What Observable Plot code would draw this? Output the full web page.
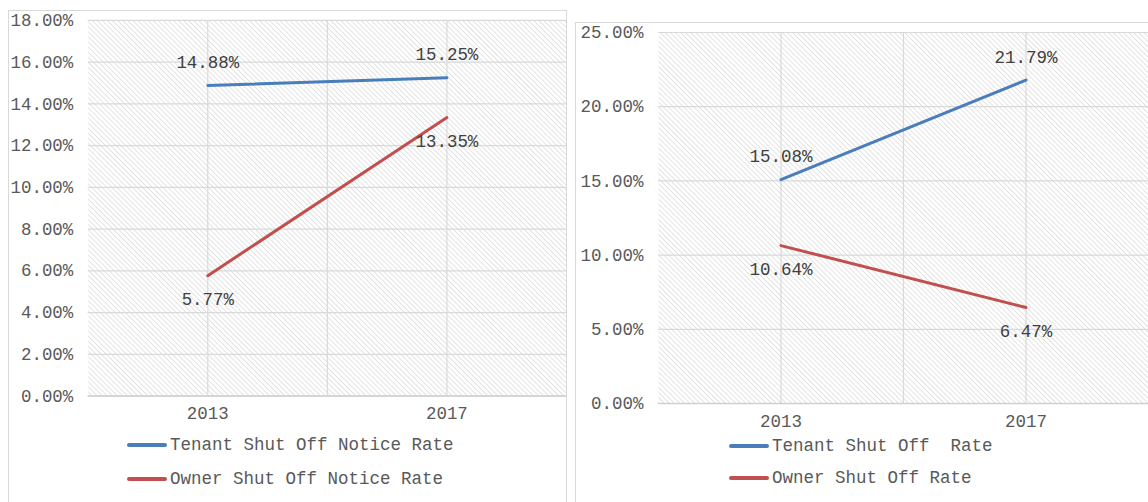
<!DOCTYPE html>
<html>
<head>
<meta charset="utf-8">
<script src="https://cdn.jsdelivr.net/npm/d3@7"></script>
<script src="https://cdn.jsdelivr.net/npm/@observablehq/plot@0.6"></script>
<style>
  html, body { margin: 0; padding: 0; background: #fff; }
  #root { position: relative; width: 1148px; height: 502px; overflow: hidden; background: #fff;
          font-family: "Liberation Mono", "DejaVu Sans Mono", monospace; color: #595959; }
  .panel { position: absolute; box-sizing: border-box; border: 1.5px solid #d9d9d9; background: #fff; }
  .clip { position: absolute; overflow: hidden; }
  .legend { position: absolute; font-size: 17.5px; color: #595959; white-space: pre; }
  .legend .item { position: absolute; display: flex; align-items: center; }
  .legend .swatch { display: inline-block; width: 40px; height: 4px; border-radius: 2px; margin-right: 3px; }
</style>
</head>
<body>
<svg width="0" height="0" style="position:absolute">
  <defs>
    <pattern id="hatch" patternUnits="userSpaceOnUse" width="3.6" height="3.6" patternTransform="rotate(-45)">
      <rect width="3.6" height="3.6" fill="#ffffff"></rect>
      <line x1="0" y1="0" x2="0" y2="3.6" stroke="#cccccc" stroke-width="1.1"></line>
    </pattern>
  </defs>
</svg>
<div id="root"></div>
<script>
// ---- data ----
const years = [2013, 2017];
const gridYears = [2013, 2015, 2017];

const leftSeries = ["Tenant Shut Off Notice Rate", "Owner Shut Off Notice Rate"];
const leftTenant = [0.1488, 0.1525];
const leftOwner = [0.0577, 0.1335];
const leftTicks = [0, 0.02, 0.04, 0.06, 0.08, 0.10, 0.12, 0.14, 0.16, 0.18];

const rightSeries = ["Tenant Shut Off  Rate", "Owner Shut Off Rate"];
const rightTenant = [0.1508, 0.2179];
const rightOwner = [0.1064, 0.0647];
const rightTicks = [0, 0.05, 0.10, 0.15, 0.20, 0.25];

const colors = ["#4a7ebb", "#c0504d"];

const FONT = '"Liberation Mono", "DejaVu Sans Mono", monospace';
const fmt = d3.format(".2%");

function makeChart({series, tenant, owner, ticks, yMax, width, height, marginLeft, marginTop, marginBottom}) {
  const tRows = years.map((y, i) => ({year: y, value: tenant[i], series: series[0]}));
  const oRows = years.map((y, i) => ({year: y, value: owner[i], series: series[1]}));
  return Plot.plot({
    width, height, marginLeft, marginTop, marginBottom, marginRight: 0,
    style: {fontFamily: FONT, fontSize: "17.5px", color: "#595959", background: "transparent", overflow: "visible"},
    x: {type: "linear", domain: [2011, 2019], ticks: years, tickFormat: d => String(d), tickSize: 0, tickPadding: 11, label: null},
    y: {domain: [0, yMax], ticks: ticks, tickFormat: fmt, tickSize: 0, tickPadding: 15, label: null},
    color: {domain: series, range: colors},
    marks: [
      Plot.frame({fill: "url(#hatch)", stroke: null}),
      Plot.ruleY(ticks, {stroke: "#d9d9d9", strokeWidth: 1.2}),
      Plot.ruleX(gridYears, {stroke: "#d9d9d9", strokeWidth: 1.2}),
      Plot.ruleY([0], {stroke: "#d0d0d0", strokeWidth: 1.5}),
      Plot.line(tRows, {x: "year", y: "value", stroke: "series", strokeWidth: 3}),
      Plot.line(oRows, {x: "year", y: "value", stroke: "series", strokeWidth: 3}),
      Plot.text(tRows, {x: "year", y: "value", text: d => fmt(d.value), dy: -23, fill: "#404040", fontSize: 17.5}),
      Plot.text(oRows, {x: "year", y: "value", text: d => fmt(d.value), dy: 24, fill: "#404040", fontSize: 17.5})
    ]
  });
}

const root = document.getElementById("root");

// panels
const p1 = document.createElement("div");
p1.className = "panel";
Object.assign(p1.style, {left: "8px", top: "10px", width: "559px", height: "520px"});
root.appendChild(p1);
const p2 = document.createElement("div");
p2.className = "panel";
Object.assign(p2.style, {left: "575px", top: "22px", width: "600px", height: "520px"});
root.appendChild(p2);

// left chart
const c1 = document.createElement("div");
c1.className = "clip";
Object.assign(c1.style, {left: "0px", top: "0px", width: "566px", height: "440px"});
c1.appendChild(makeChart({series: leftSeries, tenant: leftTenant, owner: leftOwner, ticks: leftTicks, yMax: 0.18,
  width: 568, height: 440, marginLeft: 88, marginTop: 20, marginBottom: 43}));
root.appendChild(c1);

// right chart
const c2 = document.createElement("div");
c2.className = "clip";
Object.assign(c2.style, {left: "576px", top: "0px", width: "572px", height: "440px"});
c2.appendChild(makeChart({series: rightSeries, tenant: rightTenant, owner: rightOwner, ticks: rightTicks, yMax: 0.25,
  width: 572, height: 440, marginLeft: 82, marginTop: 32, marginBottom: 37}));
root.appendChild(c2);

// legends
function legend(series, left, tops) {
  const lg = document.createElement("div");
  lg.className = "legend";
  lg.style.left = left + "px";
  lg.style.top = "0px";
  series.forEach((s, i) => {
    const it = document.createElement("div");
    it.className = "item";
    it.style.top = (tops[i] - 12) + "px";
    it.style.height = "24px";
    const sw = document.createElement("span");
    sw.className = "swatch";
    sw.style.background = colors[i];
    const tx = document.createElement("span");
    tx.textContent = s;
    it.appendChild(sw); it.appendChild(tx);
    lg.appendChild(it);
  });
  root.appendChild(lg);
}
legend(leftSeries, 127, [445, 479]);
legend(rightSeries, 729, [446, 478]);
</script>
</body>
</html>
